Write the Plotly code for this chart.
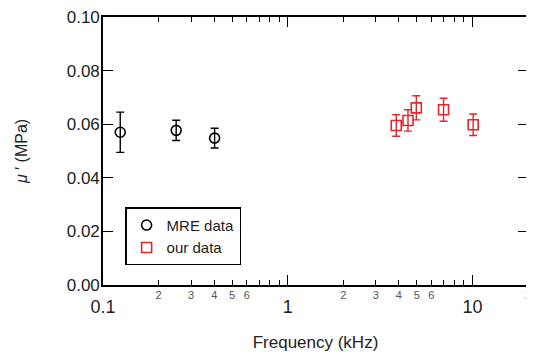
import plotly.graph_objects as go
import math

# MRE data (black circles)
mre_freq = [0.124, 0.249, 0.402]
mre_mu = [0.0570, 0.0577, 0.0548]
mre_err = [0.0075, 0.0038, 0.0037]

# our data (red squares)
our_freq = [3.87, 4.48, 4.97, 6.98, 10.1]
our_mu = [0.0595, 0.0614, 0.0661, 0.0654, 0.0598]
our_err = [0.0040, 0.0040, 0.0045, 0.0043, 0.0040]

minor_vals = [0.2, 0.3, 0.4, 0.5, 0.6, 0.7, 0.8, 0.9, 2, 3, 4, 5, 6, 7, 8, 9, 20]
minor_text = ["2", "3", "4", "5", "6", "", "", "", "2", "3", "4", "5", "6", "", "", "", "2"]
major_vals = [0.1, 1, 10]
major_text = ["0.1", "1", "10"]
y_ticks = [0.00, 0.02, 0.04, 0.06, 0.08, 0.10]

FONT = "Liberation Sans, Arial, sans-serif"
RED = "#e2262e"

fig = go.Figure()
fig.add_trace(go.Scatter(
    x=mre_freq, y=mre_mu, mode="markers", name="MRE data",
    marker=dict(symbol="circle-open", size=10, color="black", line=dict(width=1.6)),
    error_y=dict(type="data", array=mre_err, color="black", thickness=1.4, width=4),
))
fig.add_trace(go.Scatter(
    x=our_freq, y=our_mu, mode="markers", name="our data",
    marker=dict(symbol="square-open", size=10, color=RED, line=dict(width=1.6)),
    error_y=dict(type="data", array=our_err, color=RED, thickness=1.4, width=4),
))

xr = [math.log10(0.1), math.log10(20)]

fig.update_layout(
    width=526, height=348,
    margin=dict(l=95, r=6, t=9, b=71, autoexpand=False),
    paper_bgcolor="white", plot_bgcolor="white",
    font=dict(family=FONT, color="#222"),
    showlegend=True,
    legend=dict(
        x=0.052, y=0.29, xanchor="left", yanchor="top",
        bordercolor="black", borderwidth=1.5, bgcolor="white",
        font=dict(size=15, color="#222"),
        tracegroupgap=0, itemwidth=30,
    ),
    xaxis=dict(
        type="log", range=xr, automargin=False,
        tickmode="array", tickvals=minor_vals, ticktext=minor_text,
        ticks="inside", ticklen=5, tickwidth=1.3, tickcolor="black",
        tickfont=dict(size=11, color="#555"),
        ticklabelstandoff=-1, ticklabeloverflow="allow",
        showline=True, linecolor="black", linewidth=1.6, mirror="ticks",
        showgrid=False, zeroline=False,
        title=dict(text="Frequency (kHz)", font=dict(size=17, color="#222"), standoff=36),
    ),
    xaxis2=dict(
        type="log", range=xr, overlaying="x", anchor="y", side="bottom", automargin=False,
        tickmode="array", tickvals=major_vals, ticktext=major_text,
        ticks="inside", ticklen=10, tickwidth=1.3, tickcolor="black",
        tickfont=dict(size=18, color="#222"),
        ticklabelstandoff=9, ticklabeloverflow="allow",
        showline=False, mirror="ticks",
        showgrid=False, zeroline=False,
    ),
    yaxis=dict(
        range=[0, 0.10], tickmode="array", tickvals=y_ticks, automargin=False,
        tickformat=".2f",
        ticks="inside", ticklen=10, tickwidth=1.3, tickcolor="black",
        tickfont=dict(size=17, color="#222"),
        ticklabelstandoff=-2, ticklabeloverflow="allow",
        showline=True, linecolor="black", linewidth=1.6, mirror="ticks",
        showgrid=False, zeroline=False,
        title=dict(text="<i>μ</i> ′ (MPa)", font=dict(size=16, color="#222"), standoff=35),
    ),
)

# invisible trace to activate the major-tick axis
fig.add_trace(go.Scatter(x=[1], y=[None], xaxis="x2", showlegend=False, hoverinfo="skip"))

fig.write_html("out.html")
